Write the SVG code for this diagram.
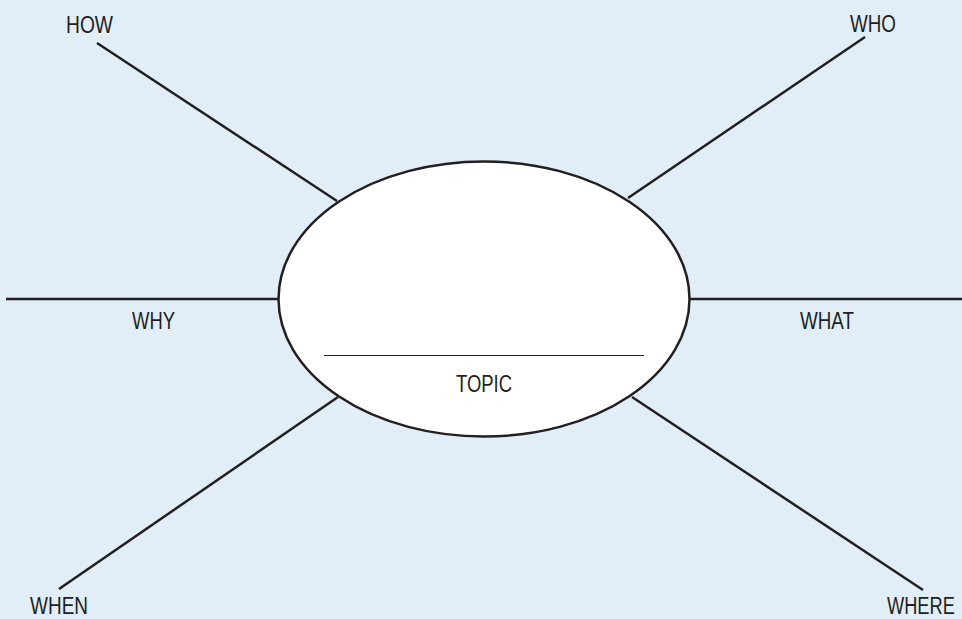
<svg xmlns="http://www.w3.org/2000/svg" width="962" height="619" viewBox="0 0 962 619">
<style>
.lbl{font-family:"Liberation Sans",Arial,sans-serif;font-size:24px;fill:#231f20}
.ln{stroke:#231f20;stroke-width:2.5;fill:none;stroke-linecap:butt}
</style>
<rect x="0" y="0" width="962" height="619" fill="#e1eef8"/>
<g id="connectors">
<line class="ln" x1="97" y1="43" x2="337" y2="201"/>
<line class="ln" x1="865" y1="37" x2="628" y2="198"/>
<line class="ln" x1="6" y1="299" x2="280" y2="299"/>
<line class="ln" x1="688" y1="299" x2="962" y2="299"/>
<line class="ln" x1="59" y1="589" x2="338" y2="397"/>
<line class="ln" x1="923" y1="590" x2="632" y2="397"/>
</g>
<g id="topic">
<ellipse cx="484" cy="299" rx="205.5" ry="137.5" fill="#ffffff" stroke="#231f20" stroke-width="2.5"/>
<line x1="324" y1="355.5" x2="644" y2="355.5" stroke="#231f20" stroke-width="1.2"/>
<text class="lbl" x="456" y="392" textLength="56" lengthAdjust="spacingAndGlyphs">TOPIC</text>
</g>
<g id="how"><text class="lbl" x="66" y="33" textLength="47" lengthAdjust="spacingAndGlyphs">HOW</text></g>
<g id="who"><text class="lbl" x="850" y="32" textLength="46" lengthAdjust="spacingAndGlyphs">WHO</text></g>
<g id="why"><text class="lbl" x="132" y="329" textLength="43" lengthAdjust="spacingAndGlyphs">WHY</text></g>
<g id="what"><text class="lbl" x="800" y="329" textLength="54" lengthAdjust="spacingAndGlyphs">WHAT</text></g>
<g id="when"><text class="lbl" x="30" y="613.5" textLength="58" lengthAdjust="spacingAndGlyphs">WHEN</text></g>
<g id="where" transform="translate(887,613.5) scale(0.76,1)"><text class="lbl" x="0" y="0">WHERE</text></g>
</svg>
